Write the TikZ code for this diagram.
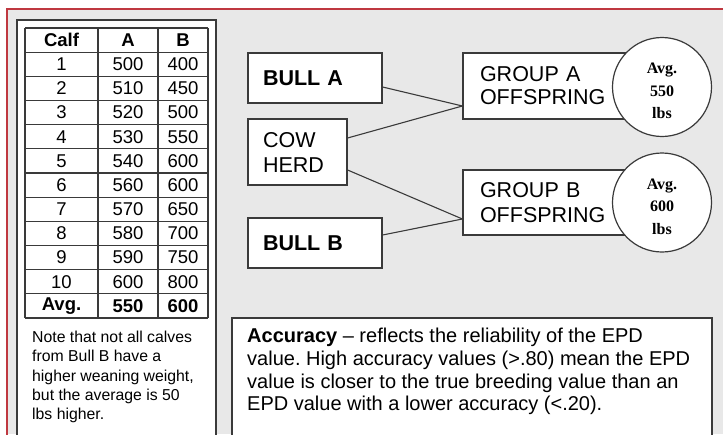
\documentclass[tikz,border=0pt]{standalone}
\usepackage{fontspec}
\setmainfont{Liberation Sans}
\newfontfamily\circfont{Liberation Serif}
\usetikzlibrary{calc}
\definecolor{bggray}{HTML}{E8E8E8}
\definecolor{redline}{rgb}{0.75,0.22,0.25}
\definecolor{edge}{HTML}{3A3A3A}
\frenchspacing
\begin{document}
\begin{tikzpicture}[x=1pt,y=-1pt,
  box/.style={draw=edge, line width=1.2pt, fill=white, rectangle, inner sep=0pt, align=left},
  circ/.style={draw=edge, line width=1.2pt, fill=white, circle, inner sep=0pt, minimum size=99pt},
  circtext/.style={inner sep=0pt, align=center, font=\circfont\bfseries\fontsize{16}{22.5}\selectfont},
  cell/.style={inner sep=0pt, font=\fontsize{18.5}{22}\selectfont},
  conn/.style={draw=edge, line width=1.1pt},
  grid/.style={draw=edge, line width=1.1pt}]
\useasboundingbox (0,0) rectangle (723,434);
\fill[white] (0,0) rectangle (723,434);
\fill[bggray] (7,9) rectangle (723,434);
\draw[redline, line width=1.5pt] (7,436) -- (7,9) -- (725,9);
% left panel
\draw[edge, line width=1.6pt, fill=white] (17,20) rectangle (216,440);
% table grid
\foreach \i in {0,...,12} {
  \draw[grid] (25,{28+\i*24.17}) -- (208,{28+\i*24.17});
}
\foreach \x in {25,98,158,208} {
  \draw[grid] (\x,28) -- (\x,318);
}
\node[cell, font=\bfseries\fontsize{18.5}{22}\selectfont] (h1) at (61.5,40.1) {Calf};
\node[cell, font=\bfseries\fontsize{18.5}{22}\selectfont] (h2) at (128,40.1) {A};
\node[cell, font=\bfseries\fontsize{18.5}{22}\selectfont] (h3) at (183,40.1) {B};
\foreach \r/\a/\b in {1/500/400,2/510/450,3/520/500,4/530/550,5/540/600,6/560/600,7/570/650,8/580/700,9/590/750,10/600/800} {
  \node[cell] (r\r c1) at (61.5,{28+(\r+0.5)*24.17}) {\r};
  \node[cell] (r\r c2) at (128,{28+(\r+0.5)*24.17}) {\a};
  \node[cell] (r\r c3) at (183,{28+(\r+0.5)*24.17}) {\b};
}
\node[cell, font=\bfseries\fontsize{18.5}{22}\selectfont] (avg1) at (61.5,{28+11.5*24.17}) {Avg.};
\node[cell, font=\bfseries\fontsize{18.5}{22}\selectfont] (avg2) at (128,{28+11.5*24.17}) {550};
\node[cell, font=\bfseries\fontsize{18.5}{22}\selectfont] (avg3) at (183,{28+11.5*24.17}) {600};
% note
\node[anchor=north west, inner sep=0pt, align=left, font=\fontsize{15.8}{19.2}\selectfont] (note) at (32,331)
  {Note that not all calves\\from Bull B have a\\higher weaning weight,\\but the average is 50\\lbs higher.};
% accuracy box
\draw[edge, line width=1.5pt, fill=white] (232,318) rectangle (712,440);
\node[anchor=north west, inner sep=0pt, align=left, font=\fontsize{20}{22.7}\selectfont] (acc) at (247,328)
  {\textbf{Accuracy} -- reflects the reliability of the EPD\\value. High accuracy values (>.80) mean the EPD\\value is closer to the true breeding value than an\\EPD value with a lower accuracy (<.20).};
% diagram
\node[box, minimum width=134pt, minimum height=50pt, text width=104pt, font=\bfseries\fontsize{21.5}{24}\selectfont] (bullA) at (315,78) {BULL A};
\node[box, minimum width=99pt, minimum height=66pt, text width=69pt, font=\fontsize{21.5}{25}\selectfont] (cow) at (297.5,152) {COW\\HERD};
\node[box, minimum width=134pt, minimum height=50pt, text width=104pt, font=\bfseries\fontsize{21.5}{24}\selectfont] (bullB) at (315,243) {BULL B};
\node[box, minimum width=177pt, minimum height=66pt, text width=143pt, font=\fontsize{21.5}{23}\selectfont] (grpA) at (551.5,86) {GROUP A\\OFFSPRING};
\node[box, minimum width=177pt, minimum height=65pt, text width=143pt, font=\fontsize{21.5}{25}\selectfont] (grpB) at (551.5,202.5) {GROUP B\\OFFSPRING};
\node[circ] (avgA) at (662,87) {};
\node[circ] (avgB) at (662,202.5) {};
\node[circtext] (avgAtxt) at ([yshift=-4pt]avgA.center) {Avg.\\550\\lbs};
\node[circtext] (avgBtxt) at ([yshift=-4pt]avgB.center) {Avg.\\600\\lbs};
\draw[conn] ([yshift=-9pt]bullA.east) -- ([yshift=-20pt]grpA.west);
\draw[conn] ([yshift=14pt]cow.east) -- ([yshift=-20pt]grpA.west);
\draw[conn] ([yshift=-18pt]cow.east) -- ([yshift=-16.5pt]grpB.west);
\draw[conn] ([yshift=8pt]bullB.east) -- ([yshift=-16.5pt]grpB.west);
\end{tikzpicture}
\end{document}
